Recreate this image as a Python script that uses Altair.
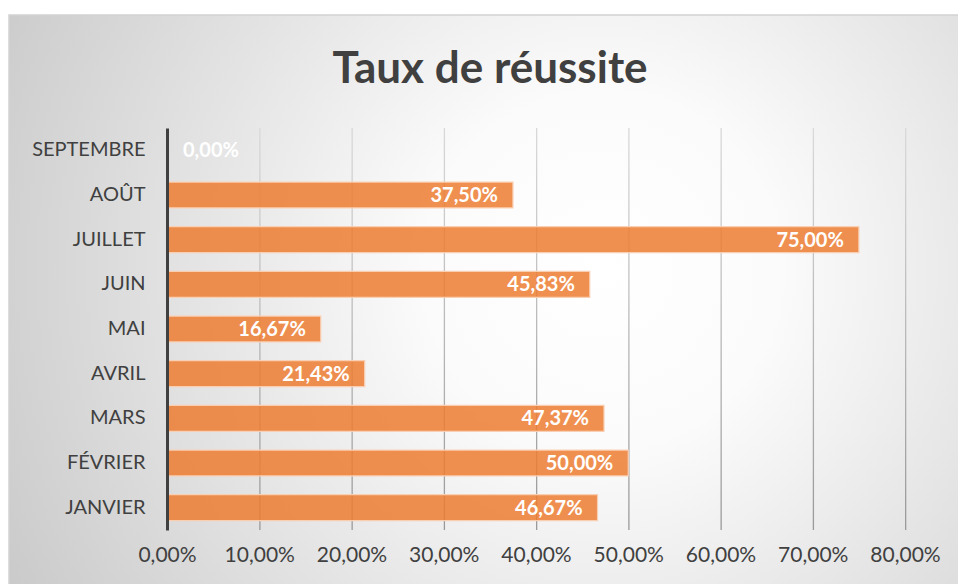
import altair as alt
import pandas as pd

months = ["JANVIER", "FÉVRIER", "MARS", "AVRIL", "MAI", "JUIN", "JUILLET", "AOÛT", "SEPTEMBRE"]
rates = [0.4667, 0.50, 0.4737, 0.2143, 0.1667, 0.4583, 0.75, 0.375, 0.0]
tick_values = [0.0, 0.1, 0.2, 0.3, 0.4, 0.5, 0.6, 0.7, 0.8]
grid_values = [0.1, 0.2, 0.3, 0.4, 0.5, 0.6, 0.7, 0.8]
title_text = ["Taux de réussite"]

# layout (pixels)
W, H = 958, 584
PAD_L, PAD_T, PAD_R, PAD_B = 167, 128, 53, 54
PLOT_W = W - PAD_L - PAD_R
PLOT_H = H - PAD_T - PAD_B
FRAME_X, FRAME_Y = 9, 15
TITLE_CX, TITLE_BASE = 490, 83

FONT = "Lato"
TEXT_COL = "#404040"

df = pd.DataFrame({"mois": months, "taux": rates})
grid_df = pd.DataFrame({"v": grid_values})
bg_df = pd.DataFrame({"k": [0]})
title_df = pd.DataFrame({"t": title_text})

order = list(reversed(months))
fr_fmt = "replace(format(datum.taux, '.2%'), '.', ',')"

x_scale = alt.Scale(domain=[0, 0.8], nice=False, zero=True)
y_scale = alt.Scale(domain=order, paddingInner=0.42, paddingOuter=0.21)

background = alt.Chart(bg_df).mark_rect(
    fill=alt.RadialGradient(
        gradient="radial",
        x1=0.6, y1=0.45, r1=0.0,
        x2=0.6, y2=0.45, r2=0.72,
        stops=[
            alt.GradientStop(offset=0.0, color="#ffffff"),
            alt.GradientStop(offset=0.25, color="#fbfbfb"),
            alt.GradientStop(offset=1.0, color="#c6c6c6"),
        ],
    ),
    stroke="#d2d2d2",
    strokeWidth=1.5,
).encode(
    x=alt.value(FRAME_X - PAD_L),
    x2=alt.value(W - PAD_L + 40),
    y=alt.value(FRAME_Y - PAD_T),
    y2=alt.value(H - PAD_T + 40),
)

title = alt.Chart(title_df).mark_text(
    align="center", baseline="alphabetic",
    font=FONT, fontSize=44, fontWeight="bold", color=TEXT_COL,
).encode(
    x=alt.value(TITLE_CX - PAD_L),
    y=alt.value(TITLE_BASE - PAD_T),
    text="t:N",
)

grid = alt.Chart(grid_df).mark_rect(
    x2Offset=1.3,
    fill=alt.LinearGradient(
        gradient="linear",
        x1=0, y1=0, x2=0, y2=1,
        stops=[
            alt.GradientStop(offset=0.0, color="#d9d9d9"),
            alt.GradientStop(offset=1.0, color="#999999"),
        ],
    ),
).encode(
    x=alt.X("v:Q", scale=x_scale),
    x2="v:Q",
    y=alt.value(0),
    y2=alt.value({"expr": "height"}),
)

bars = alt.Chart(df).mark_bar(
    fill="#ED7D31",
    fillOpacity=0.85,
    stroke="#F9CFB3",
    strokeWidth=1.2,
).encode(
    x=alt.X(
        "taux:Q",
        scale=x_scale,
        axis=alt.Axis(
            values=tick_values,
            labelExpr="replace(format(datum.value, '.2%'), '.', ',')",
            title=None,
            domain=False,
            ticks=False,
            grid=False,
            labelOverlap=False,
            labelFlush=False,
            labelBound=False,
            labelFont=FONT,
            labelFontSize=21,
            labelColor=TEXT_COL,
            labelPadding=14,
            zindex=1,
        ),
    ),
    y=alt.Y(
        "mois:N",
        scale=y_scale,
        sort=order,
        axis=alt.Axis(
            title=None,
            ticks=False,
            grid=False,
            domain=True,
            domainColor=TEXT_COL,
            domainWidth=3,
            labelFont=FONT,
            labelFontSize=20,
            labelColor=TEXT_COL,
            labelPadding=22,
            zindex=1,
        ),
    ),
)

labels = alt.Chart(df).transform_filter("datum.taux > 0").transform_calculate(
    lbl=fr_fmt
).mark_text(
    align="right", baseline="middle", dx=-15, dy=1,
    font=FONT, fontSize=20, fontWeight="bold", color="white",
).encode(
    x=alt.X("taux:Q", scale=x_scale),
    y=alt.Y("mois:N", scale=y_scale, sort=order),
    text="lbl:N",
)

zero_labels = alt.Chart(df).transform_filter("datum.taux == 0").transform_calculate(
    lbl=fr_fmt
).mark_text(
    align="left", baseline="middle", dx=16, dy=1,
    font=FONT, fontSize=20, fontWeight="bold", color="white",
).encode(
    x=alt.X("taux:Q", scale=x_scale),
    y=alt.Y("mois:N", scale=y_scale, sort=order),
    text="lbl:N",
)

chart = alt.layer(background, title, grid, bars, labels, zero_labels).properties(
    width=PLOT_W,
    height=PLOT_H,
    autosize=alt.AutoSizeParams(type="none"),
    padding={"left": PAD_L, "top": PAD_T, "right": PAD_R, "bottom": PAD_B},
).configure(
    background="white",
).configure_view(
    stroke=None,
)

chart.save("out.html", embed_options={"renderer": "svg", "actions": False})
